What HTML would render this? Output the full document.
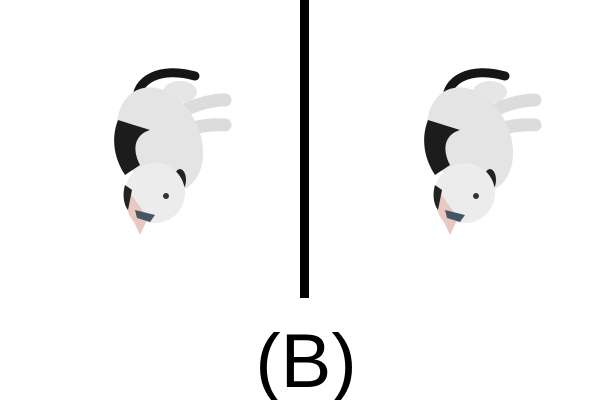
<!DOCTYPE html>
<html><head><meta charset="utf-8"><style>
html,body{margin:0;padding:0;background:#fff;width:610px;height:400px;overflow:hidden}
</style></head><body>
<svg width="610" height="400" viewBox="0 0 610 400">
<defs>
<g id="cat">
<path d="M137,102 C135,80 160,66 195,76" stroke="#151515" stroke-width="9" fill="none" stroke-linecap="round"/>
<ellipse cx="180" cy="92" rx="17" ry="11" fill="#e6e6e6"/>
<path d="M160,90 C150,92 140,100 138,108 L160,115 Z" fill="#222"/>
<path d="M185,110 C200,103 212,100 225,100" stroke="#dcdcdc" stroke-width="13" fill="none" stroke-linecap="round"/>
<path d="M185,130 C200,126 212,124 225,125" stroke="#dcdcdc" stroke-width="13" fill="none" stroke-linecap="round"/>
<ellipse cx="160" cy="140" rx="40" ry="55" transform="rotate(-25 160 140)" fill="#e4e4e4"/>
<path d="M118,120 C112,135 112,155 125,175 L140,165 C132,150 134,135 150,130 Z" fill="#1c1c1c"/>
<ellipse cx="180" cy="180" rx="6" ry="11" fill="#222"/>
<circle cx="155" cy="193" r="30" fill="#ececec"/>
<path d="M128,190 C124,205 128,215 134,222 L140,235 L148,218 Z" fill="#e8c8c0"/>
<path d="M125,185 C122,195 124,205 128,210 L132,190 Z" fill="#222"/>
<path d="M135,210 L155,215 L150,222 L137,218 Z" fill="#445566"/>
<circle cx="166" cy="196" r="3" fill="#333"/>
</g>
</defs>
<use href="#cat"/>
<use href="#cat" x="310"/>
<rect x="300" y="0" width="9" height="298" fill="#000"/>
<text x="306" y="387" text-anchor="middle" font-family="Liberation Sans, sans-serif" font-size="76" fill="#000">(B)</text>
</svg>
</body></html>
